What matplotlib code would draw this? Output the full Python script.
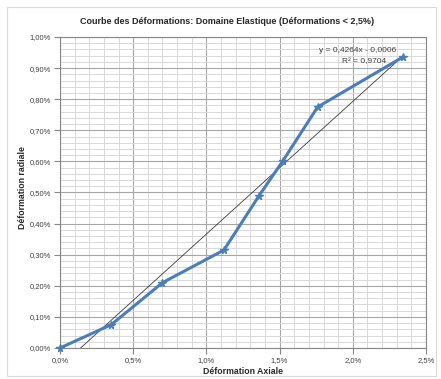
import matplotlib
matplotlib.use("Agg")
from matplotlib import pyplot as plt
from matplotlib.patches import Rectangle
from matplotlib.ticker import MultipleLocator, FuncFormatter
import numpy as np

# valeurs (en %)
def_axiale = [0.0, 0.35, 0.70, 1.12, 1.36, 1.52, 1.76, 2.34]
def_radiale = [0.0, 0.075, 0.21, 0.315, 0.49, 0.60, 0.775, 0.935]

# courbe de tendance (en fraction)
pente = 0.4264
ordonnee = -0.0006
r2 = 0.9704

titre = "Courbe des Déformations: Domaine Elastique (Déformations < 2,5%)"
label_x = "Déformation Axiale"
label_y = "Déformation radiale"

plt.rcParams['font.family'] = ['Liberation Sans', 'DejaVu Sans']

fig = plt.figure(figsize=(4.41, 3.79), dpi=100)
ax = fig.add_axes([60 / 441, 1 - 348 / 379, 366 / 441, 311 / 379])

# cadre du graphique
fig.patches.append(Rectangle((7 / 441, 3 / 379), 429 / 441, 369 / 379, transform=fig.transFigure,
                             fill=False, edgecolor="#d9d9d9", linewidth=0.8))

ax.xaxis.set_major_locator(MultipleLocator(0.5))
ax.xaxis.set_minor_locator(MultipleLocator(0.1))
ax.yaxis.set_major_locator(MultipleLocator(0.1))
ax.yaxis.set_minor_locator(MultipleLocator(0.02))
ax.grid(which="major", color="#a6a6a6", linewidth=0.8)
ax.grid(which="minor", color="#d9d9d9", linewidth=0.7)
ax.set_axisbelow(True)

ax.xaxis.set_major_formatter(FuncFormatter(lambda v, p: ("%.1f%%" % v).replace(".", ",")))
ax.yaxis.set_major_formatter(FuncFormatter(lambda v, p: ("%.2f%%" % v).replace(".", ",")))
ax.tick_params(which="major", labelsize=5.5, length=4, pad=2.5, color="#868686", labelcolor="#404040")
ax.tick_params(which="minor", length=0)
for s in ax.spines.values():
    s.set_color("#868686")
    s.set_linewidth(0.8)

ax.set_xlim(0, 2.5)
ax.set_ylim(0, 1.0)

# tendance
xt = np.array([min(def_axiale), max(def_axiale)])
yt = (pente * xt / 100 + ordonnee) * 100
ax.plot(xt, yt, color="#3a3a3a", linewidth=0.6, zorder=3)

ax.plot(def_axiale, def_radiale, color="#4a7ebb", linewidth=2.2, marker="*",
        markersize=5.5, zorder=4, clip_on=False)

ax.text(2.035, 0.955, "y = 0,4264x - 0,0006", fontsize=6, color="#404040",
        ha="center", va="center", zorder=5)
ax.text(2.08, 0.92, "R² = 0,9704", fontsize=6, color="#404040",
        ha="center", va="center", zorder=5)

fig.text(227 / 441, 1 - 21 / 379, titre, fontsize=6.5, fontweight="bold",
         ha="center", va="center", color="#262626")
fig.text(243 / 441, 1 - 372 / 379, label_x, fontsize=6.3, fontweight="bold",
         ha="center", va="center", color="#262626")
fig.text(23 / 441, 1 - 188 / 379, label_y, fontsize=6.3, fontweight="bold",
         rotation=90, ha="center", va="center", color="#262626")

plt.savefig("out.png", dpi=100)
